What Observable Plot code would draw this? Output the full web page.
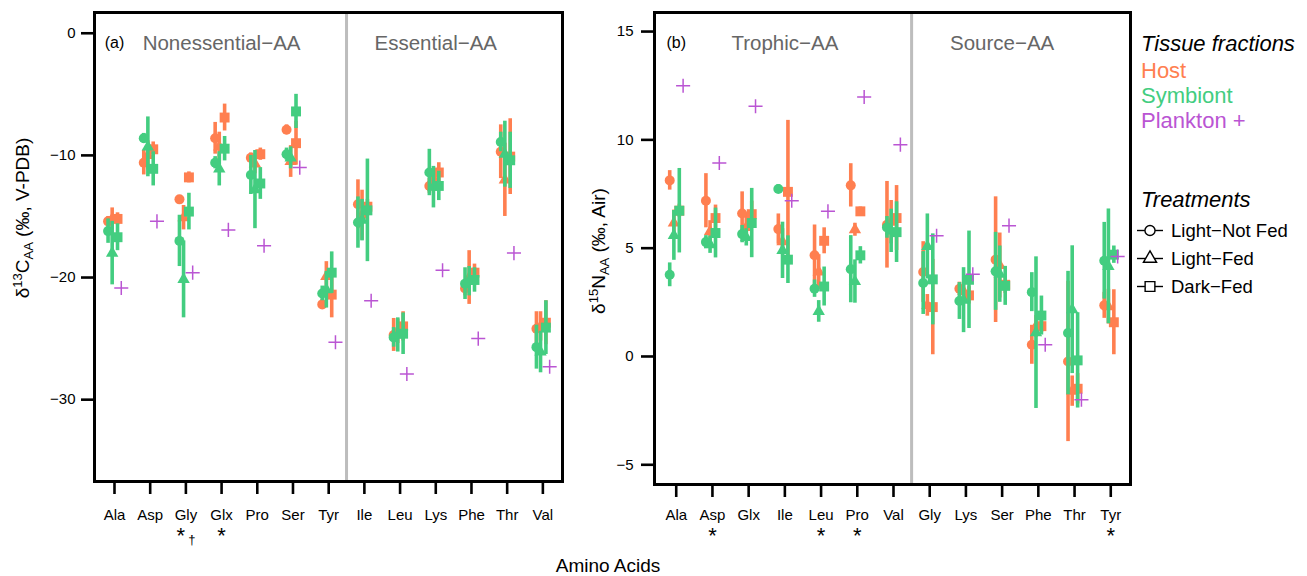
<!DOCTYPE html>
<html><head><meta charset="utf-8">
<script src="https://cdn.jsdelivr.net/npm/d3@7"></script>
<script src="https://cdn.jsdelivr.net/npm/@observablehq/plot@0.6"></script>
<style>
body{margin:0;background:#fff;}
#wrap{position:relative;width:1307px;height:576px;overflow:hidden;font-family:"Liberation Sans",Arial,Helvetica,sans-serif;background:#fff;}
</style></head><body><div id="wrap"></div>
<script>
// ---------- Panel (a): δ13C ----------
const aaA = ["Ala","Asp","Gly","Glx","Pro","Ser","Tyr","Ile","Leu","Lys","Phe","Thr","Val"];
const hostLNF_A  = [-15.4,-10.6,-13.6,-8.6,-10.2,-7.9,-22.2,-14.0,-24.7,-12.5,-20.9,-9.7,-24.2];
const hostLNF_Ae = [0.4,1.0,0.3,1.3,0.4,0.4,0.4,2.0,1.35,0.6,0.6,2.2,1.4];
const hostLF_A   = [-15.2,-10.0,-15.1,-9.3,-10.7,-10.5,-19.9,-14.9,-24.4,-11.9,-20.0,-12.0,-24.0];
const hostLF_Ae  = [0.9,1.2,1.0,1.2,0.8,1.3,1.2,2.05,1.0,0.8,2.2,3.0,1.2];
const hostDF_A   = [-15.2,-9.5,-11.8,-6.9,-9.9,-9.0,-21.4,-14.2,-24.0,-11.4,-19.6,-10.1,-23.7];
const hostDF_Ae  = [0.5,0.6,0.45,1.1,0.5,1.8,1.9,0.6,1.2,0.8,0.7,3.1,1.8];
const symLNF_A   = [-16.2,-8.6,-17.0,-10.6,-11.6,-9.9,-21.3,-15.5,-24.9,-11.4,-20.5,-8.9,-25.7];
const symLNF_Ae  = [1.0,0.4,2.1,0.5,1.6,0.5,0.6,2.1,0.8,1.9,1.3,0.8,1.8];
const symLF_A    = [-18.0,-9.3,-20.15,-11.1,-12.8,-10.2,-21.0,-15.3,-24.7,-12.6,-20.3,-9.9,-26.1];
const symLF_Ae   = [2.6,2.45,3.15,1.4,3.2,0.9,1.5,1.7,1.4,1.7,1.2,2.7,1.7];
const symDF_A    = [-16.7,-11.1,-14.6,-9.45,-12.3,-6.4,-19.6,-14.5,-24.6,-12.5,-20.2,-10.4,-24.1];
const symDF_Ae   = [1.1,1.4,1.5,1.0,1.3,1.4,1.7,4.2,1.7,1.2,1.0,2.3,2.2];
const planktonA  = [-20.85,-15.4,-19.6,-16.1,-17.4,-11.0,-25.3,-21.9,-27.9,-19.4,-25.0,-18.0,-27.3];
const groupsA    = ["Nonessential−AA","Essential−AA"];
const groupAtA   = ["Glx","Lys"];
const nFirstA    = 7;
const sigA       = ["","","*","*","","","","","","","","",""];
const daggerA    = ["","","†","","","","","","","","","",""];
const yTicksA    = [0,-10,-20,-30];

// ---------- Panel (b): δ15N ----------
const aaB = ["Ala","Asp","Glx","Ile","Leu","Pro","Val","Gly","Lys","Ser","Phe","Thr","Tyr"];
const hostLNF_B  = [8.13,7.19,6.6,5.88,4.67,7.9,6.08,3.9,3.13,4.47,0.54,-0.23,2.36];
const hostLNF_Be = [0.45,1.25,1.0,0.7,1.4,1.0,2.0,1.4,0.3,2.9,0.9,3.7,0.6];
const hostLF_B   = [6.16,5.77,5.96,5.3,3.9,5.85,6.2,2.36,3.0,4.2,1.39,-1.6,2.3];
const hostLF_Be  = [0.6,0.5,0.6,0.6,0.8,0.3,1.0,0.5,0.4,1.5,0.5,0.7,0.8];
const hostDF_B   = [6.73,6.39,6.57,7.6,5.34,6.7,6.39,2.28,2.82,3.31,1.4,-1.49,1.58];
const hostDF_Be  = [0.3,0.6,0.6,3.3,0.6,0.2,1.5,2.2,0.4,0.4,0.3,0.7,1.5];
const symLNF_B   = [3.77,5.28,5.65,7.73,3.13,4.03,5.96,3.39,2.56,3.93,2.97,1.08,4.42];
const symLNF_Be  = [0.55,0.3,0.4,0.2,0.4,1.55,0.5,1.45,0.85,1.8,0.9,2.85,1.77];
const symLF_B    = [5.59,5.16,5.5,4.9,2.08,3.46,5.8,5.08,2.6,3.8,1.1,2.16,4.16];
const symLF_Be   = [1.15,0.4,0.4,1.3,0.5,1.0,1.0,1.5,1.5,1.3,3.5,2.95,2.65];
const symDF_B    = [6.73,5.7,6.16,4.47,3.23,4.67,5.74,3.56,3.54,3.26,1.89,-0.18,4.7];
const symDF_Be   = [1.95,1.15,1.6,1.1,0.9,0.4,1.4,2.1,2.25,0.9,0.9,2.2,0.4];
const planktonB  = [12.5,8.93,11.55,7.19,6.7,11.98,9.78,5.57,3.8,6.04,0.54,-2.0,4.62];
const groupsB    = ["Trophic−AA","Source−AA"];
const groupAtB   = ["Ile","Ser"];
const nFirstB    = 7;
const sigB       = ["","*","","","*","*","","","","","","","*"];
const daggerB    = ["","","","","","","","","","","","",""];
const yTicksB    = [15,10,5,0,-5];

// ---------- Legend / labels ----------
const fractions  = ["Host","Symbiont","Plankton"];
const treatments = ["Light−Not Fed","Light−Fed","Dark−Fed"];
const xTitle = "Amino Acids";

// ---------- styles ----------
const fracColor = {Host: "#FF7F50", Symbiont: "#43CD80", Plankton: "#BA55D3"};
const symOf = {"Light−Not Fed": "circle", "Light−Fed": "triangle", "Dark−Fed": "square"};
const rOf = {circle: 5, triangle: 4.6, square: 5.6};
const offs = {"Light−Not Fed": -0.18, "Light−Fed": -0.065, "Dark−Fed": 0.085, Plankton: 0.19};
const FONT = "Liberation Sans, Arial, Helvetica, sans-serif";

function rows(aa, mean, err, fraction, treatment) {
  return aa.map((a, i) => ({i, a, v: mean[i], lo: mean[i] - err[i], hi: mean[i] + err[i], fraction, treatment}));
}

function panel(c) {
  const marks = [Plot.ruleX([c.nFirst - 0.5], {stroke: "#bdbdbd", strokeWidth: 3})];
  for (const frac of ["Host", "Symbiont"]) {
    const rs = c.series.filter(s => s.fraction === frac)
      .flatMap(s => rows(c.aa, s.mean, s.err, frac, s.treatment));
    marks.push(Plot.ruleX(rs, {x: d => d.i + offs[d.treatment], y1: "lo", y2: "hi",
      stroke: fracColor[frac], strokeWidth: 3.6}));
    for (const t of treatments) {
      const sym = symOf[t];
      marks.push(Plot.dot(rs.filter(d => d.treatment === t),
        {x: d => d.i + offs[t], y: "v", symbol: sym, r: rOf[sym], fill: fracColor[frac]}));
    }
  }
  const pr = c.plank.map((v, i) => ({i, v}));
  marks.push(Plot.dot(pr, {x: d => d.i + offs.Plankton, y: "v", symbol: "plus", r: 4.6,
    stroke: fracColor.Plankton, strokeWidth: 1.5, fill: "none"}));
  marks.push(Plot.text(c.groups, {x: (d, k) => c.aa.indexOf(c.groupAt[k]), text: d => d,
    frameAnchor: "top", dy: 23, fill: "#666", fontSize: 20.5}));
  marks.push(Plot.text([c.tag], {x: () => 0, text: d => d, frameAnchor: "top", dy: 24,
    fill: "black", fontSize: 16}));
  marks.push(Plot.axisX({ticks: d3.range(c.aa.length), tickFormat: i => c.aa[i], tickSize: 13,
    tickPadding: c.padX, strokeWidth: 2.6, label: null, fontSize: 15}));
  marks.push(Plot.axisY({ticks: c.yTicks, tickSize: 13, tickPadding: c.padY, strokeWidth: 2.6,
    label: null, fontSize: 15}));
  marks.push(Plot.text(c.sig, {x: (d, k) => k, text: d => d, frameAnchor: "bottom",
    dy: c.starDy, fontSize: 22, filter: (d, k) => c.dagger[k] === ""}));
  marks.push(Plot.text(c.sig, {x: (d, k) => k, text: d => d, frameAnchor: "bottom",
    dy: c.starDy, dx: -5, fontSize: 22, filter: (d, k) => c.dagger[k] !== ""}));
  marks.push(Plot.text(c.dagger, {x: (d, k) => k, text: d => d, frameAnchor: "bottom",
    dy: c.starDy + 1, dx: 6, fontSize: 13, fill: "black"}));
  marks.push(Plot.frame({stroke: "black", strokeWidth: 3}));
  return Plot.plot({
    width: c.width, height: c.height,
    marginLeft: c.mL, marginRight: c.mR, marginTop: c.mT, marginBottom: c.mB,
    x: {type: "linear", domain: c.xDomain},
    y: {domain: c.yDomain},
    style: {position: "absolute", left: c.left + "px", top: "0px", background: "transparent",
      overflow: "visible", fontFamily: FONT, fontSize: "15px", maxWidth: "none"},
    marks
  });
}

const seriesA = [
  {fraction: "Host", treatment: treatments[0], mean: hostLNF_A, err: hostLNF_Ae},
  {fraction: "Host", treatment: treatments[1], mean: hostLF_A, err: hostLF_Ae},
  {fraction: "Host", treatment: treatments[2], mean: hostDF_A, err: hostDF_Ae},
  {fraction: "Symbiont", treatment: treatments[0], mean: symLNF_A, err: symLNF_Ae},
  {fraction: "Symbiont", treatment: treatments[1], mean: symLF_A, err: symLF_Ae},
  {fraction: "Symbiont", treatment: treatments[2], mean: symDF_A, err: symDF_Ae}
];
const seriesB = [
  {fraction: "Host", treatment: treatments[0], mean: hostLNF_B, err: hostLNF_Be},
  {fraction: "Host", treatment: treatments[1], mean: hostLF_B, err: hostLF_Be},
  {fraction: "Host", treatment: treatments[2], mean: hostDF_B, err: hostDF_Be},
  {fraction: "Symbiont", treatment: treatments[0], mean: symLNF_B, err: symLNF_Be},
  {fraction: "Symbiont", treatment: treatments[1], mean: symLF_B, err: symLF_Be},
  {fraction: "Symbiont", treatment: treatments[2], mean: symDF_B, err: symDF_Be}
];

const wrap = document.getElementById("wrap");
wrap.appendChild(panel({
  aa: aaA, series: seriesA, plank: planktonA, groups: groupsA, groupAt: groupAtA, tag: "(a)",
  nFirst: nFirstA, sig: sigA, dagger: daggerA, yTicks: yTicksA,
  xDomain: [-0.56, 12.55], yDomain: [-36.7, 1.7],
  left: 0, width: 575, height: 540, mL: 94, mR: 13, mT: 12, mB: 59,
  padX: 15, padY: 6, starDy: 61.8
}));
wrap.appendChild(panel({
  aa: aaB, series: seriesB, plank: planktonB, groups: groupsB, groupAt: groupAtB, tag: "(b)",
  nFirst: nFirstB, sig: sigB, dagger: daggerB, yTicks: yTicksB,
  xDomain: [-0.6, 12.545], yDomain: [-5.91, 15.88],
  left: 560, width: 575, height: 540, mL: 94, mR: 5, mT: 12, mB: 56,
  padX: 12, padY: 8, starDy: 58.8
}));

// ---------- overlay: axis titles and legend ----------
const ov = d3.select(wrap).append("svg")
  .attr("width", 1307).attr("height", 576)
  .style("position", "absolute").style("left", "0px").style("top", "0px")
  .style("pointer-events", "none").style("font-family", FONT);

function yTitle(cx, cy, iso, elem, rest) {
  const t = ov.append("text").attr("transform", `translate(${cx},${cy}) rotate(-90)`)
    .attr("text-anchor", "middle").attr("font-size", 19).attr("fill", "black");
  t.append("tspan").text("δ");
  t.append("tspan").attr("dy", -7).attr("font-size", 13).text(iso);
  t.append("tspan").attr("dy", 7).text(elem);
  t.append("tspan").attr("dy", 4).attr("font-size", 13).text("AA");
  t.append("tspan").attr("dy", -4).text(rest);
}
yTitle(29, 218, "13", "C", " (‰, V-PDB)");
yTitle(605, 251, "15", "N", " (‰, Air)");

ov.append("text").attr("x", 608).attr("y", 571.5).attr("text-anchor", "middle")
  .attr("font-size", 19).text(xTitle);

// legend
ov.append("text").attr("x", 1141).attr("y", 51).attr("font-size", 22).attr("font-style", "italic")
  .text("Tissue fractions");
fractions.forEach((f, k) => {
  ov.append("text").attr("x", 1141).attr("y", 78 + 25 * k).attr("font-size", 22)
    .attr("fill", fracColor[f]).text(f === "Plankton" ? "Plankton +" : f);
});
ov.append("text").attr("x", 1141).attr("y", 207).attr("font-size", 22).attr("font-style", "italic")
  .text("Treatments");
treatments.forEach((t, k) => {
  const by = 237 + 28 * k, cy = by - 6.5;
  ov.append("line").attr("x1", 1137).attr("x2", 1163).attr("y1", cy).attr("y2", cy)
    .attr("stroke", "black").attr("stroke-width", 1.4);
  ov.append("path").attr("transform", `translate(1150,${cy})`)
    .attr("d", d3.symbol(d3["symbol" + symOf[t][0].toUpperCase() + symOf[t].slice(1)], symOf[t] === "circle" ? 80 : symOf[t] === "square" ? 95 : 75)())
    .attr("fill", "white").attr("stroke", "black").attr("stroke-width", 1.4);
  ov.append("text").attr("x", 1171).attr("y", by).attr("font-size", 18.5).text(t);
});
</script>
</body></html>
